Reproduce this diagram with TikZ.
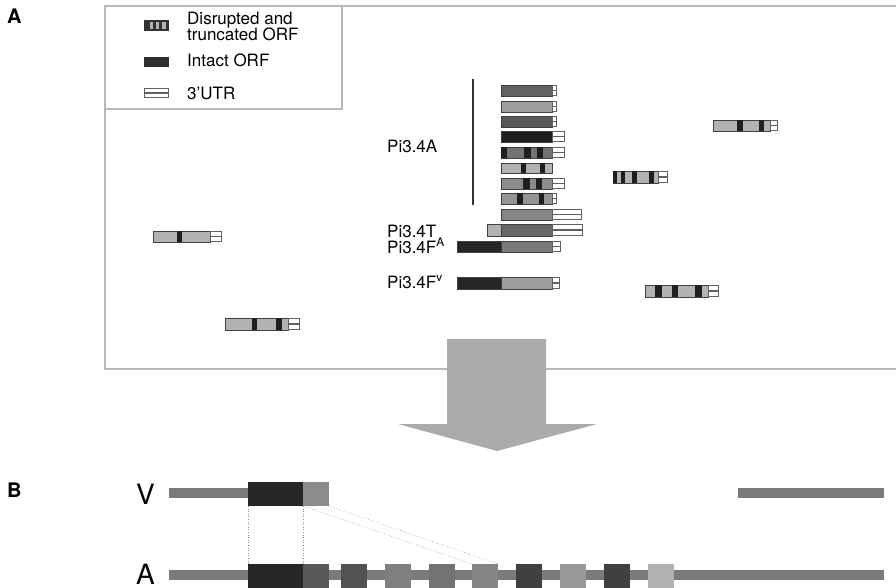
\documentclass[tikz,border=0pt]{standalone}
\usepackage{fontspec}
\setmainfont{TeX Gyre Heros}
\newcommand\orfbar[5]{\filldraw[orfbox, fill=#5] (#1,#3) rectangle (#2,#4);}
\newcommand\blkband[4]{\fill[black!88] (#1,{#3+0.4}) rectangle (#2,{#4-0.4});}
\newcommand\utrbox[4]{\fill[black!62] (#1,#3) rectangle (#2,#4);
  \fill[white] ({#1+1.3},{#3+1.3}) rectangle ({#2-1.3},{(#3+#4)/2-0.6});
  \fill[white] ({#1+1.3},{(#3+#4)/2+0.6}) rectangle ({#2-1.3},{#4-1.3});}
\tikzset{
  frame/.style={draw=black!28, line width=1.1pt},
  orfbox/.style={draw=black!75, line width=0.9pt},
  lbl/.style={font=\fontsize{17}{18}\selectfont, anchor=base west, inner sep=0},
  tight/.style={text depth=0pt, text height=11pt},
  panel/.style={font=\fontsize{20}{22}\selectfont\bfseries, anchor=base west, inner sep=0},
  biglbl/.style={font=\fontsize{28}{30}\selectfont, anchor=base west, inner sep=0, text depth=0pt},
  pb/.style={inner sep=0, outer sep=0, anchor=north west, draw=none, rectangle},
  link/.style={draw=black!45, dotted, line width=0.6pt}
}
\begin{document}
\begin{tikzpicture}[x=1pt,y=-1pt]
\useasboundingbox (0,0) rectangle (896,587);
\clip (0,0) rectangle (896,587);
% panel A frame
\draw[frame] (896,6) -- (105,6) -- (105,369) -- (447,369);
\draw[frame] (546,369) -- (896,369);
\draw[frame] (105,109) -- (342,109) -- (342,6);
\node[panel] (pA) at (7,23) {A};
% legend
\fill[black!80] (144,20) rectangle (169,31);
\fill[black!30] (150,22) rectangle (153,29);
\fill[black!30] (156,22) rectangle (159,29);
\fill[black!30] (162,22) rectangle (166,29);
\fill[black!82] (144,57) rectangle (169,67);
\utrbox{144}{169}{88}{98}
\node[lbl, text depth=0pt] (l1) at (187,24) {Disrupted and};
\node[lbl, tight] (l2) at (187,40) {truncated ORF};
\node[lbl] (l3) at (187,66) {Intact ORF};
\node[lbl] (l4) at (187,99) {3'UTR};
% Pi3.4A stack
\draw[black!80, line width=1.2pt] (473,79) -- (473,205);
\node[lbl] (pa) at (387,152) {Pi3.4A};
\node[lbl, text depth=0pt] (pt) at (387,237) {Pi3.4T};
\node[lbl, tight] (pfa) at (387,253) {Pi3.4F\textsuperscript{A}};
\node[lbl] (pfv) at (387,288) {Pi3.4F\textsuperscript{v}};
\orfbar{501}{552}{85}{96}{black!62}\utrbox{552}{557}{85}{96}
\orfbar{501}{552}{101}{112}{black!38}\utrbox{552}{557}{101}{112}
\orfbar{501}{552}{116}{127}{black!65}\utrbox{552}{557}{116}{127}
\orfbar{501}{552}{131}{142}{black!88}\utrbox{552}{565}{131}{142}
\orfbar{501}{552}{147}{158}{black!55}\blkband{501}{507}{147}{158}\blkband{524}{531}{147}{158}\blkband{537}{543}{147}{158}\utrbox{552}{565}{147}{158}
\orfbar{501}{552}{163}{173}{black!30}\blkband{521}{526}{163}{173}\blkband{540}{545}{163}{173}
\orfbar{501}{552}{178}{189}{black!45}\blkband{523}{530}{178}{189}\blkband{536}{542}{178}{189}\utrbox{552}{565}{178}{189}
\orfbar{501}{552}{193}{204}{black!42}\blkband{517}{523}{193}{204}\blkband{539}{544}{193}{204}\utrbox{552}{557}{193}{204}
\orfbar{501}{552}{209}{220}{black!48}\utrbox{552}{582}{209}{220}
\orfbar{487}{501}{224}{236}{black!30}\orfbar{501}{552}{224}{236}{black!60}\utrbox{552}{583}{224}{236}
\orfbar{457}{501}{241}{252}{black!85}\orfbar{501}{552}{241}{252}{black!52}\utrbox{552}{561}{241}{252}
\orfbar{457}{501}{277}{289}{black!85}\orfbar{501}{552}{277}{289}{black!38}\utrbox{552}{560}{277}{289}
% scattered copies
\orfbar{713}{770}{120}{131}{black!30}\blkband{737}{743}{120}{131}\blkband{759}{764}{120}{131}\utrbox{770}{778}{120}{131}
\orfbar{613}{658}{171}{183}{black!30}\blkband{613}{617}{171}{183}\blkband{621}{625}{171}{183}\blkband{632}{637}{171}{183}\blkband{649}{654}{171}{183}\utrbox{658}{668}{171}{183}
\orfbar{645}{708}{285}{297}{black!30}\blkband{655}{662}{285}{297}\blkband{672}{678}{285}{297}\blkband{695}{702}{285}{297}\utrbox{708}{719}{285}{297}
\orfbar{153}{210}{231}{242}{black!30}\blkband{177}{182}{231}{242}\utrbox{210}{222}{231}{242}
\orfbar{225}{288}{318}{330}{black!30}\blkband{252}{257}{318}{330}\blkband{276}{282}{318}{330}\utrbox{288}{300}{318}{330}
% big arrow
\fill[black!33] (447,339) -- (546,339) -- (546,424) -- (597,424) -- (497,451) -- (398,424) -- (447,424) -- cycle;
% panel B
\node[panel] (pB) at (7,497) {B};
\node[biglbl] (lv) at (136,504) {V};
\node[biglbl] (la) at (136,584) {A};
\node[pb, fill=black!52, minimum width=79pt, minimum height=10pt] (vbar) at (169,488) {};
\node[pb, fill=black!52, minimum width=146pt, minimum height=10pt] (vright) at (738,488) {};
\node[pb, fill=black!85, minimum width=55pt, minimum height=24pt] (vblack) at (248,482) {};
\node[pb, fill=black!45, minimum width=26pt, minimum height=24pt] (vgray) at (303,482) {};
\node[pb, fill=black!52, minimum width=715pt, minimum height=10pt] (abar) at (169,570) {};
\node[pb, fill=black!85, minimum width=55pt, minimum height=30pt] (ablack) at (248,564) {};
\node[pb, fill=black!65, minimum width=26pt, minimum height=30pt] (a1) at (303,564) {};
\node[pb, fill=black!68, minimum width=26pt, minimum height=30pt] (a2) at (341,564) {};
\node[pb, fill=black!50, minimum width=26pt, minimum height=30pt] (a3) at (385,564) {};
\node[pb, fill=black!55, minimum width=26pt, minimum height=30pt] (a4) at (429,564) {};
\node[pb, fill=black!48, minimum width=26pt, minimum height=30pt] (a5) at (472,564) {};
\node[pb, fill=black!75, minimum width=26pt, minimum height=30pt] (a6) at (516,564) {};
\node[pb, fill=black!40, minimum width=26pt, minimum height=30pt] (a7) at (560,564) {};
\node[pb, fill=black!75, minimum width=26pt, minimum height=30pt] (a8) at (604,564) {};
\node[pb, fill=black!30, minimum width=26pt, minimum height=30pt] (a9) at (648,564) {};
\draw[link] (vblack.south west) -- (ablack.north west);
\draw[link] (vblack.south east) -- (ablack.north east);
\draw[link] (vgray.south west) -- (a5.north west);
\draw[link] (vgray.south east) -- (a5.north east);
\end{tikzpicture}
\end{document}
